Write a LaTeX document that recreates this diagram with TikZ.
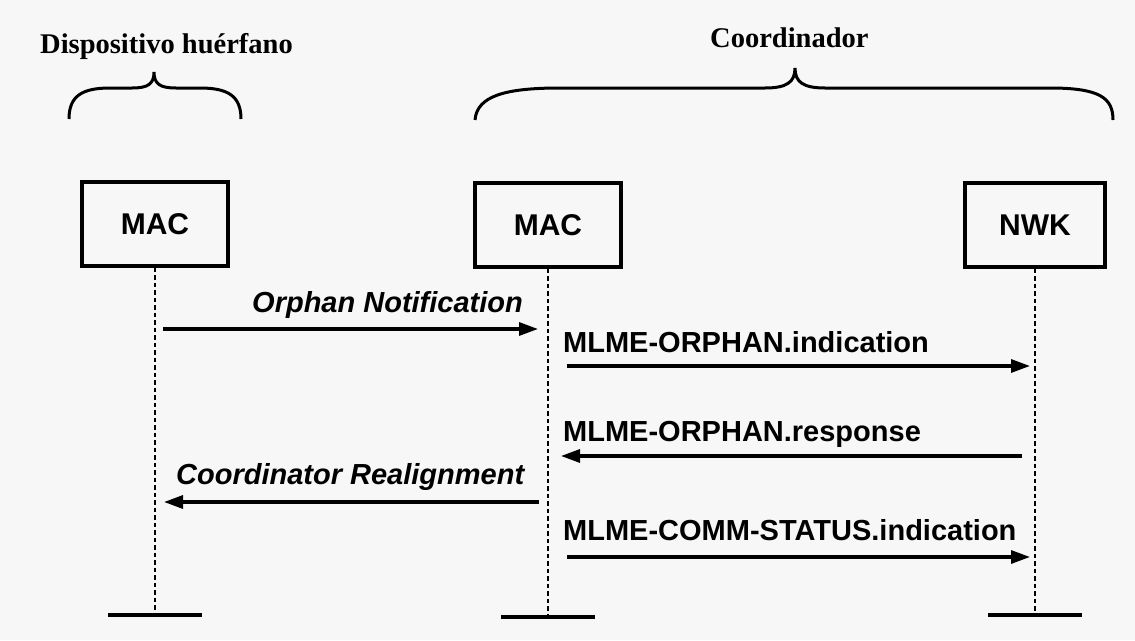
\documentclass[tikz,border=0pt]{standalone}
\usepackage{fontspec}
\setmainfont{Liberation Serif}
\setsansfont{Liberation Sans}
\usetikzlibrary{arrows.meta}

\tikzset{
  layer/.style={draw,line width=3.4pt,minimum width=146pt,minimum height=84pt,
    font=\sffamily\bfseries\fontsize{30}{32}\selectfont},
  lifeline/.style={line width=2.8pt,dash pattern=on 4.5pt off 3pt},
  msg/.style={line width=3.2pt,-{Triangle[length=19pt,width=13pt]}},
  msglabel/.style={anchor=base west,inner sep=0pt,font=\sffamily\bfseries\fontsize{29}{31}\selectfont},
  title/.style={anchor=base west,inner sep=0pt,font=\bfseries\fontsize{28.5}{30}\selectfont}
}

\begin{document}
\begin{tikzpicture}[x=1pt,y=-1pt]
\fill[black!3] (0,0) rectangle (1135,640);
\useasboundingbox (0,0) rectangle (1135,640);

% titles and braces
\node[title] (tdev) at (40,53) {Dispositivo huérfano};
\node[title] (tcoord) at (710,47) {Coordinador};
\draw[line width=3pt] (69,119) .. controls (69,96) and (82,88) .. (110,88) -- (132,88)
  .. controls (148,88) and (154,84) .. (154,72) .. controls (154,84) and (160,88) .. (176,88)
  -- (200,88) .. controls (228,88) and (241,96) .. (241,119);
\draw[line width=3pt] (475,120) .. controls (477,96) and (505,88) .. (560,88) -- (765,88)
  .. controls (787,88) and (795,82) .. (795,68) .. controls (795,82) and (803,88) .. (825,88)
  -- (1050,88) .. controls (1100,88) and (1113,98) .. (1113,120);

% layers
\node[layer] (macdev) at (155,224) {MAC};
\node[layer] (maccoord) at (548,225) {MAC};
\node[layer,minimum width=140pt] (nwk) at (1035,225) {NWK};

\foreach \n/\y in {macdev/615,maccoord/617,nwk/615}{
  \coordinate (\n-end) at (\n.south |- 0,\y);
  \draw[lifeline] (\n.south) -- (\n-end);
  \draw[line width=4.5pt] ([xshift=-47pt]\n-end) -- ([xshift=47pt]\n-end);
}

% messages
\coordinate (m1a) at (163,329); \coordinate (m1b) at (538,329);
\coordinate (m2a) at (567,366); \coordinate (m2b) at (1030,366);
\coordinate (m3a) at (1022,456); \coordinate (m3b) at (561,456);
\coordinate (m4a) at (539,502); \coordinate (m4b) at (164,502);
\coordinate (m5a) at (567,557); \coordinate (m5b) at (1030,557);

\draw[msg] (m1a) -- (m1b);
\draw[msg] (m2a) -- (m2b);
\draw[msg] (m3a) -- (m3b);
\draw[msg] (m4a) -- (m4b);
\draw[msg] (m5a) -- (m5b);

\node[msglabel] (l1) at (252,312) {\itshape Orphan Notification};
\node[msglabel] (l2) at (563,352) {MLME-ORPHAN.indication};
\node[msglabel] (l3) at (563,441) {MLME-ORPHAN.response};
\node[msglabel] (l4) at (176,484) {\itshape Coordinator Realignment};
\node[msglabel] (l5) at (563,540) {MLME-COMM-STATUS.indication};
\end{tikzpicture}
\end{document}
